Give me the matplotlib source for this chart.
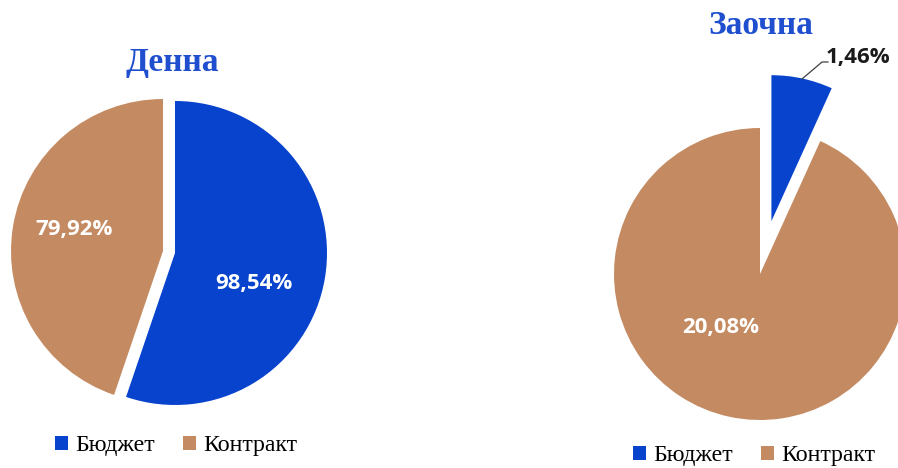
import matplotlib.pyplot as plt
from matplotlib.patches import Patch

# values shown on the slices (Excel shows them with a "%" sign)
categories = ["Бюджет", "Контракт"]
day_values = [98.54, 79.92]
extramural_values = [1.46, 20.08]
titles = ["Денна", "Заочна"]

blue = "#0743cc"
brown = "#c48b63"
title_clr = "#1f4fcf"
colors = [blue, brown]

W, H = 898, 468
r1, r2 = 152, 146


def fmt(v):
    return "{:.2f}%".format(v).replace(".", ",")


fig = plt.figure(figsize=(W / 100, H / 100), dpi=100)
ax = fig.add_axes([0, 0, 1, 1])

# left pie: "Денна"  (explode is in data units, so scale by radius)
ax.pie(day_values, colors=colors, startangle=90, counterclock=False,
       explode=[0.04 * r1, 0.04 * r1], center=(169, H - 252), radius=r1,
       wedgeprops=dict(linewidth=0), frame=True)
# right pie: "Заочна"
ax.pie(extramural_values, colors=colors, startangle=90, counterclock=False,
       explode=[0.37 * r2, 0.0], center=(760, H - 274), radius=r2,
       wedgeprops=dict(linewidth=0), frame=True)

ax.set_xlim(0, W)
ax.set_ylim(0, H)
ax.set_aspect("equal")
ax.axis("off")

lbl = dict(color="white", fontsize=16, fontweight="bold", family="Open Sans",
           ha="center", va="center")
ax.text(254, H - 284, fmt(day_values[0]), **lbl)
ax.text(74, H - 229, fmt(day_values[1]), **lbl)
ax.text(721, H - 328, fmt(extramural_values[1]), **lbl)

# outside label with leader line for the small slice
ax.plot([802, 822, 828], [H - 79, H - 62, H - 62], color="#404040", lw=0.9)
ax.text(826, H - 57, fmt(extramural_values[0]), color="#1a1a1a", fontsize=16,
        fontweight="bold", family="Open Sans", ha="left", va="center")

for t, x, y in zip(titles, [172, 761], [63, 25]):
    fig.text(x / W, 1 - y / H, t, color=title_clr, fontsize=24, fontweight="bold",
             family="Liberation Serif", ha="center", va="center")

handles = [Patch(facecolor=c, edgecolor="none") for c in colors]
leg_kw = dict(ncol=2, frameon=False, handlelength=0.55, handleheight=0.55,
              handletextpad=0.3, columnspacing=1.2, loc="center",
              borderpad=0.1,
              prop=dict(family="Liberation Serif", size=17.2),
              bbox_transform=fig.transFigure)
leg1 = ax.legend(handles, categories, bbox_to_anchor=(176 / W, 1 - 446 / H), **leg_kw)
ax.add_artist(leg1)
ax.legend(handles, categories, bbox_to_anchor=(754 / W, 1 - 456 / H), **leg_kw)

fig.savefig("out.png", dpi=100)
